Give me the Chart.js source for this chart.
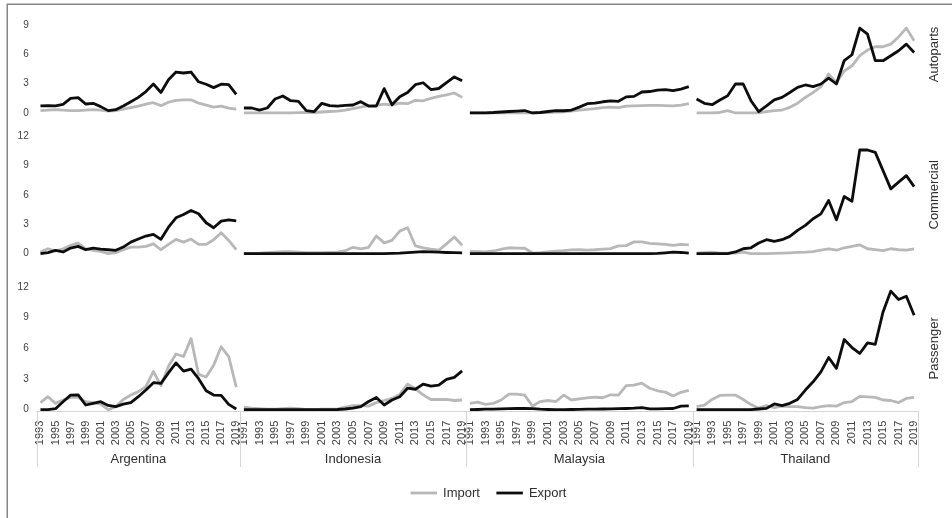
<!DOCTYPE html>
<html>
<head>
<meta charset="utf-8">
<title>Vehicle trade: Argentina, Indonesia, Malaysia, Thailand</title>
<style>
  html, body { margin: 0; padding: 0; background: #ffffff; }
  #wrap { position: relative; width: 952px; height: 518px; overflow: hidden; }
  canvas { display: block; }
</style>
<script src="https://cdn.jsdelivr.net/npm/chart.js@4.4.1/dist/chart.umd.min.js"></script>
</head>
<body>
<div id="wrap"><canvas id="chart" width="952" height="518"></canvas></div>
<script>
// ---------------- categories ----------------
const argentinaYears = ['1993','1994','1995','1996','1997','1998','1999','2000','2001','2002','2003','2004','2005','2006',
  '2007','2008','2009','2010','2011','2012','2013','2014','2015','2016','2017','2018','2019'];
const asiaYears = ['1991','1992','1993','1994','1995','1996','1997','1998','1999','2000','2001','2002','2003','2004','2005',
  '2006','2007','2008','2009','2010','2011','2012','2013','2014','2015','2016','2017','2018','2019'];

// ---------------- tick labels ----------------
const autopartsTicks = [0, 3, 6, 9];
const vehicleTicks = [0, 3, 6, 9, 12];

// ---------------- series values ----------------
// Argentina
const argAutopartsImport = [0.25,0.3,0.35,0.3,0.25,0.25,0.3,0.35,0.3,0.2,0.25,0.4,0.55,0.7,0.9,1.05,0.75,1.1,1.3,1.35,1.35,1.0,0.8,0.6,0.7,0.5,0.4];
const argAutopartsExport = [0.72,0.75,0.72,0.89,1.5,1.57,0.92,0.99,0.65,0.24,0.34,0.72,1.16,1.6,2.2,2.97,2.1,3.4,4.2,4.1,4.2,3.2,2.95,2.6,2.95,2.9,1.9];
const argCommercialImport = [0.17,0.5,0.27,0.5,0.84,1.08,0.5,0.34,0.23,0.0,0.1,0.4,0.67,0.67,0.74,1.0,0.4,0.95,1.45,1.18,1.49,0.95,0.95,1.42,2.13,1.35,0.4];
const argCommercialExport = [0.0,0.1,0.33,0.17,0.57,0.74,0.4,0.57,0.47,0.4,0.34,0.67,1.18,1.5,1.8,1.96,1.46,2.7,3.66,4.0,4.4,4.07,3.15,2.64,3.32,3.45,3.35];
const argPassengerImport = [0.69,1.27,0.62,0.95,1.2,1.2,0.78,0.69,0.55,0.0,0.3,1.0,1.44,1.77,2.25,3.75,2.35,4.25,5.45,5.2,6.95,3.45,3.2,4.35,6.15,5.2,2.2];
const argPassengerExport = [0.0,0.0,0.1,0.78,1.43,1.46,0.46,0.62,0.78,0.42,0.3,0.55,0.69,1.27,1.92,2.64,2.57,3.6,4.58,3.77,3.97,3.03,1.86,1.43,1.4,0.52,0.07];
// Indonesia
const idnAutopartsImport = [0.0,0.0,0.0,0.0,0.0,0.02,0.02,0.03,0.05,0.05,0.1,0.15,0.2,0.3,0.45,0.6,0.75,0.8,0.9,0.8,1.0,0.95,1.3,1.25,1.5,1.7,1.85,2.05,1.6];
const idnAutopartsExport = [0.51,0.51,0.3,0.51,1.43,1.74,1.26,1.19,0.24,0.13,0.99,0.75,0.71,0.78,0.82,1.16,0.71,0.71,2.5,0.85,1.67,2.11,2.9,3.1,2.4,2.51,3.1,3.7,3.3];
const idnCommercialImport = [0.02,0.03,0.05,0.1,0.15,0.2,0.2,0.15,0.1,0.1,0.1,0.12,0.15,0.3,0.65,0.5,0.65,1.8,1.1,1.35,2.3,2.64,0.8,0.6,0.45,0.35,1.0,1.7,0.85];
const idnCommercialExport = [0,0,0,0,0,0,0,0,0,0,0,0,0,0,0,0,0,0,0,0.02,0.05,0.1,0.15,0.2,0.18,0.15,0.12,0.1,0.08];
const idnPassengerImport = [0.25,0.15,0.1,0.05,0.05,0.1,0.15,0.1,0.0,0.0,0.05,0.05,0.05,0.25,0.4,0.4,0.35,0.7,0.9,1.1,1.5,2.5,2.05,1.45,1.0,1.0,1.0,0.9,0.95];
const idnPassengerExport = [0,0,0,0,0,0,0,0,0,0,0,0,0.02,0.07,0.15,0.3,0.8,1.2,0.46,0.95,1.27,2.1,2.0,2.5,2.3,2.4,2.96,3.16,3.8];
// Malaysia
const mysAutopartsImport = [0,0,0,0,0,0,0.02,0.03,0,0.03,0.05,0.08,0.12,0.2,0.3,0.38,0.45,0.55,0.6,0.55,0.7,0.72,0.75,0.78,0.78,0.75,0.72,0.8,0.95];
const mysAutopartsExport = [0.0,0.0,0.02,0.05,0.1,0.15,0.2,0.25,0.0,0.05,0.15,0.23,0.23,0.3,0.6,0.95,1.0,1.15,1.25,1.2,1.65,1.7,2.15,2.2,2.35,2.4,2.3,2.45,2.7];
const mysCommercialImport = [0.23,0.2,0.17,0.27,0.45,0.6,0.57,0.55,0.06,0.1,0.17,0.25,0.3,0.38,0.4,0.36,0.4,0.46,0.52,0.8,0.82,1.2,1.2,1.05,1.0,0.95,0.85,0.95,0.9];
const mysCommercialExport = [0,0,0,0,0,0,0,0,0,0,0,0,0,0,0,0,0,0,0,0,0,0,0,0,0.02,0.08,0.15,0.12,0.05];
const mysPassengerImport = [0.62,0.75,0.52,0.62,0.95,1.53,1.53,1.43,0.36,0.8,0.9,0.8,1.43,0.95,1.05,1.15,1.22,1.17,1.46,1.43,2.35,2.4,2.6,2.1,1.85,1.72,1.35,1.7,1.9];
const mysPassengerExport = [0.0,0.02,0.05,0.05,0.08,0.1,0.12,0.13,0.1,0.05,0.02,0.0,0.0,0.02,0.03,0.05,0.06,0.07,0.08,0.1,0.12,0.15,0.2,0.08,0.08,0.1,0.12,0.35,0.38];
// Thailand
const thaAutopartsImport = [0,0,0,0.05,0.24,0,0,0,0.02,0.14,0.24,0.3,0.58,1.0,1.6,2.1,2.7,3.99,3.1,4.3,4.84,5.87,6.45,6.79,6.79,7.06,7.8,8.7,7.4];
const thaAutopartsExport = [1.43,0.99,0.85,1.33,1.77,2.97,2.97,1.26,0.14,0.72,1.35,1.6,2.1,2.63,2.87,2.7,2.97,3.58,2.97,5.36,5.97,8.7,8.09,5.36,5.36,5.87,6.38,7.06,6.2];
const thaCommercialImport = [0.05,0.1,0.15,0.05,0.05,0.05,0.15,0.0,0.0,0.0,0.02,0.05,0.08,0.12,0.15,0.2,0.35,0.5,0.35,0.6,0.75,0.9,0.5,0.4,0.3,0.5,0.4,0.35,0.5];
const thaCommercialExport = [0,0,0,0,0,0.17,0.5,0.6,1.08,1.42,1.25,1.42,1.76,2.37,2.88,3.56,4.06,5.42,3.45,5.83,5.35,10.57,10.57,10.33,8.47,6.61,7.29,7.96,6.84];
const thaPassengerImport = [0.3,0.45,1.0,1.4,1.43,1.43,1.0,0.5,0.15,0.4,0.2,0.35,0.3,0.3,0.2,0.15,0.3,0.4,0.35,0.7,0.8,1.3,1.25,1.2,0.95,0.9,0.7,1.1,1.2];
const thaPassengerExport = [0,0,0,0,0,0,0,0,0.07,0.13,0.56,0.4,0.62,1.0,1.92,2.73,3.7,5.1,4.04,6.86,6.08,5.5,6.53,6.4,9.56,11.6,10.77,11.1,9.24];

// ---------------- chart structure ----------------
const FONT = "'Liberation Sans', Arial, Helvetica, sans-serif";
const IMPORT_COLOR = '#b8b8b8';
const EXPORT_COLOR = '#0d0d0d';

const countries = [
  { id: 'xArgentina', name: 'Argentina', years: argentinaYears,
    rows: { Autoparts: [argAutopartsImport, argAutopartsExport], Commercial: [argCommercialImport, argCommercialExport], Passenger: [argPassengerImport, argPassengerExport] } },
  { id: 'xIndonesia', name: 'Indonesia', years: asiaYears,
    rows: { Autoparts: [idnAutopartsImport, idnAutopartsExport], Commercial: [idnCommercialImport, idnCommercialExport], Passenger: [idnPassengerImport, idnPassengerExport] } },
  { id: 'xMalaysia', name: 'Malaysia', years: asiaYears,
    rows: { Autoparts: [mysAutopartsImport, mysAutopartsExport], Commercial: [mysCommercialImport, mysCommercialExport], Passenger: [mysPassengerImport, mysPassengerExport] } },
  { id: 'xThailand', name: 'Thailand', years: asiaYears,
    rows: { Autoparts: [thaAutopartsImport, thaAutopartsExport], Commercial: [thaCommercialImport, thaCommercialExport], Passenger: [thaPassengerImport, thaPassengerExport] } }
];
// relative widths of the four country blocks
const countryWeights = { xArgentina: 203.3, xIndonesia: 226, xMalaysia: 226.7, xThailand: 225.3 };

// rows, listed bottom-first (the left stack places the last one on top)
const rows = [
  { id: 'yPassenger',  title: 'Passenger',  ticks: vehicleTicks,   min: -0.195, max: 13.63, weight: 141.7 },
  { id: 'yCommercial', title: 'Commercial', ticks: vehicleTicks,   min: -1.70,  max: 13.26, weight: 147.0 },
  { id: 'yAutoparts',  title: 'Autoparts',  ticks: autopartsTicks, min: -1.095, max: 10.15, weight: 109.9 }
];

const seriesNames = ['Import', 'Export'];
const seriesColors = [IMPORT_COLOR, EXPORT_COLOR];

const datasets = [];
countries.forEach(c => {
  rows.forEach(r => {
    const pair = c.rows[r.title];
    pair.forEach((values, k) => {
      datasets.push({
        label: seriesNames[k],
        data: values,
        xAxisID: c.id,
        yAxisID: r.id,
        borderColor: seriesColors[k],
        backgroundColor: seriesColors[k],
        borderWidth: 2.8,
        pointRadius: 0,
        pointHoverRadius: 0,
        tension: 0,
        fill: false,
        borderJoinStyle: 'round',
        borderCapStyle: 'butt',
        order: k === 1 ? 0 : 1
      });
    });
  });
});

const scales = {};
countries.forEach(c => {
  scales[c.id] = {
    type: 'category',
    labels: c.years,
    position: 'bottom',
    stack: 'countries',
    stackWeight: countryWeights[c.id],
    offset: true,
    grid: { display: false, drawTicks: false },
    border: { display: true, color: '#d6d6d6', width: 1 },
    ticks: {
      autoSkip: false,
      minRotation: 90,
      maxRotation: 90,
      padding: 9,
      color: '#404040',
      font: { family: FONT, size: 11 },
      callback(value) {
        const year = this.getLabelForValue(value);
        return Number(year) % 2 === 1 ? year : '';
      }
    },
    title: {
      display: true,
      text: c.name,
      color: '#303030',
      font: { family: FONT, size: 13 },
      padding: { top: 0, bottom: 0 }
    },
    afterFit(scale) { scale.height = 55.3; }
  };
});
rows.forEach(r => {
  scales[r.id] = {
    type: 'linear',
    position: 'left',
    stack: 'rows',
    stackWeight: r.weight,
    min: r.min,
    max: r.max,
    grid: { display: false, drawTicks: false },
    border: { display: false },
    afterBuildTicks(scale) { scale.ticks = r.ticks.map(v => ({ value: v })); },
    ticks: {
      padding: 8,
      color: '#404040',
      font: { family: FONT, size: 10 }
    },
    afterFit(scale) { scale.width = 36.7; }
  };
});

// outer frame of the figure
const framePlugin = {
  id: 'frame',
  beforeDraw(chart) {
    const ctx = chart.ctx;
    ctx.save();
    ctx.fillStyle = '#ffffff';
    ctx.fillRect(0, 0, chart.width, chart.height);
    ctx.strokeStyle = '#858585';
    ctx.lineWidth = 1.5;
    ctx.strokeRect(7.25, 4.25, chart.width + 20, chart.height + 20);
    ctx.restore();
  }
};

// group separators for the two-level category axis, row titles and legend
const decorPlugin = {
  id: 'decor',
  afterDraw(chart) {
    const ctx = chart.ctx;
    ctx.save();
    // separators between country blocks
    ctx.strokeStyle = '#d6d6d6';
    ctx.lineWidth = 1;
    countries.forEach(c => {
      const s = chart.scales[c.id];
      [s.left, s.right].forEach(x => {
        const px = Math.round(x) + 0.5;
        ctx.beginPath();
        ctx.moveTo(px, s.top);
        ctx.lineTo(px, s.bottom);
        ctx.stroke();
      });
    });
    // row titles on the right
    ctx.fillStyle = '#303030';
    ctx.font = '13px ' + FONT;
    ctx.textAlign = 'center';
    ctx.textBaseline = 'middle';
    rows.forEach(r => {
      const s = chart.scales[r.id];
      const y = s.getPixelForValue(6);
      ctx.save();
      ctx.translate(chart.chartArea.right + 16, y);
      ctx.rotate(-Math.PI / 2);
      ctx.fillText(r.title, 0, 0);
      ctx.restore();
    });
    // legend
    const items = chart.data.datasets.slice(0, 2)
      .map(d => ({ text: d.label, color: d.borderColor, width: d.borderWidth }));
    const lineLen = 26.5, gap = 6, itemGap = 16.5;
    ctx.textAlign = 'left';
    const widths = items.map(it => lineLen + gap + ctx.measureText(it.text).width);
    const total = widths.reduce((a, b) => a + b, 0) + itemGap * (items.length - 1);
    let x = 488.5 - total / 2;
    const y = 493;
    items.forEach((it, i) => {
      ctx.strokeStyle = it.color;
      ctx.lineWidth = it.width;
      ctx.beginPath();
      ctx.moveTo(x, y);
      ctx.lineTo(x + lineLen, y);
      ctx.stroke();
      ctx.fillStyle = '#303030';
      ctx.fillText(it.text, x + lineLen + gap, y);
      x += widths[i] + itemGap;
    });
    ctx.restore();
  }
};

new Chart(document.getElementById('chart'), {
  type: 'line',
  data: { datasets },
  options: {
    responsive: false,
    animation: false,
    devicePixelRatio: 1,
    events: [],
    layout: { padding: { left: 0, right: 34, top: 13.1, bottom: 51 } },
    scales,
    plugins: {
      legend: { display: false },
      tooltip: { enabled: false },
      title: { display: false }
    }
  },
  plugins: [framePlugin, decorPlugin]
});
</script>
</body>
</html>
